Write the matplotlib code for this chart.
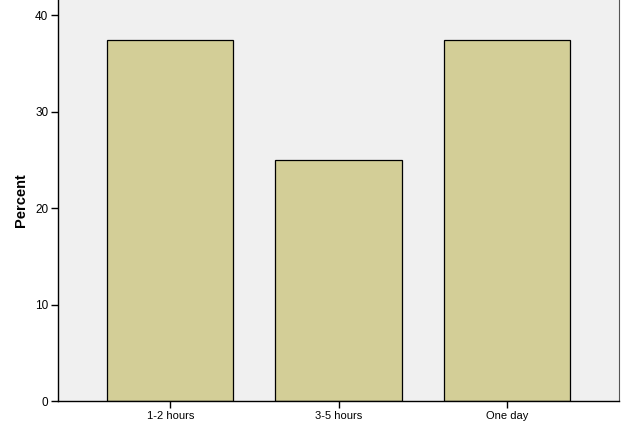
import matplotlib
matplotlib.use("Agg")
import matplotlib.pyplot as plt

categories = ["1-2 hours", "3-5 hours", "One day"]
percent = [37.5, 25.0, 37.5]
y_ticks = [0, 10, 20, 30, 40]

plt.rcParams["font.family"] = ["Liberation Sans", "DejaVu Sans"]

fig = plt.figure(figsize=(6.25, 4.3), dpi=100)
fig.patch.set_facecolor("white")
ax = fig.add_axes([58 / 625, 29 / 430, 561 / 625, 401 / 430])
ax.set_facecolor("#F0F0F0")

x = list(range(len(categories)))
ax.bar(x, percent, width=0.75, color="#D3CE97", edgecolor="black", linewidth=0.9, zorder=2)

ax.set_xlim(-0.667, 2.667)
ax.set_ylim(0, 41.6)
ax.set_xticks(x)
ax.set_xticklabels(categories, fontsize=8)
ax.set_yticks(y_ticks)
ax.set_yticklabels([str(t) for t in y_ticks], fontsize=8.5)
ax.tick_params(axis="both", direction="out", length=5, width=1, pad=2)

ax.spines["top"].set_visible(False)
ax.spines["right"].set_color("#555555")
ax.spines["left"].set_linewidth(1)
ax.spines["bottom"].set_linewidth(1)

ax.set_ylabel("Percent", fontsize=10.5, fontweight="bold", labelpad=5)

fig.savefig("out.png", dpi=100)
